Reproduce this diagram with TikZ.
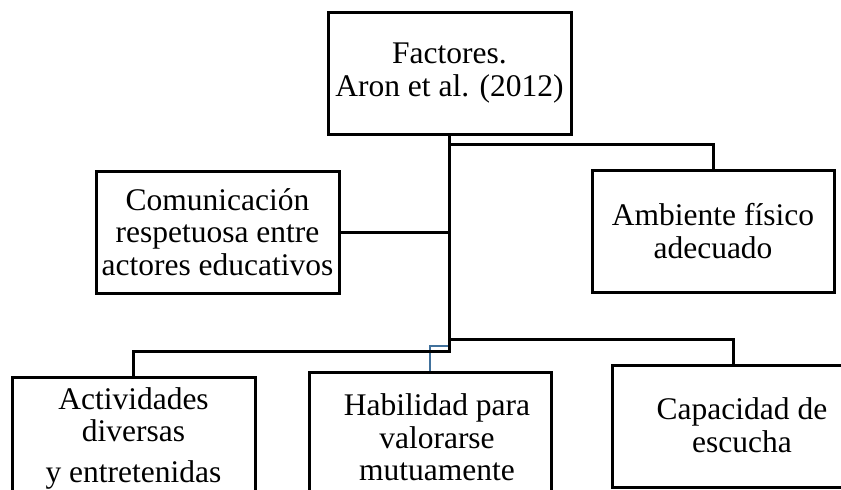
\documentclass[tikz,border=0pt]{standalone}
\usepackage{fontspec}
\setmainfont{Liberation Serif}
\definecolor{lineblue}{RGB}{65,113,156}
\begin{document}
\begin{tikzpicture}[x=1pt,y=-1pt,
  box/.style={draw=black,line width=3pt,minimum width=243pt,minimum height=122pt,inner sep=0pt,align=center,font=\fontsize{31.5}{32.5}\selectfont},
  txt/.style={inner sep=0pt,align=center,font=\fontsize{31.5}{32.5}\selectfont},
  conn/.style={draw=black,line width=3pt},
  bconn/.style={draw=lineblue,line width=2.6pt}]
\useasboundingbox (0,0) rectangle (841,490);
\clip (0,0) rectangle (841,490);
\node[box] (top) at (449.5,73) {Factores.\\Aron et al. (2012)};
\node[box] (com) at (217.5,232) {Comunicación\\respetuosa entre\\actores educativos};
\node[box,minimum width=242pt] (amb) at (713,231) {Ambiente físico\\adecuado};
\node[box] (act) at (133.5,438) {Actividades\\diversas\\[8pt]y entretenidas};
\node[box,minimum width=242pt] (hab) at (430,433) {};
\node[txt] (habT) at (437,437.5) {Habilidad para\\valorarse\\mutuamente};
\node[box] (cap) at (733.5,426) {};
\node[txt] (capT) at (742,425) {Capacidad de\\escucha};
\coordinate (j1) at (top.south |- 0,144);
\coordinate (j3) at (top.south |- 0,339);
\coordinate (j4) at (top.south |- 0,351);
\coordinate (j5) at (top.south |- 0,346);
\draw[bconn] (j5) -| (hab.north);
\draw[conn] (top.south) -- (j4) -| (act.north);
\draw[conn] (j1) -| (amb.north);
\draw[conn] (j3) -| (cap.north);
\draw[conn] (com.east) -- (com.east -| top.south);
\end{tikzpicture}
\end{document}
